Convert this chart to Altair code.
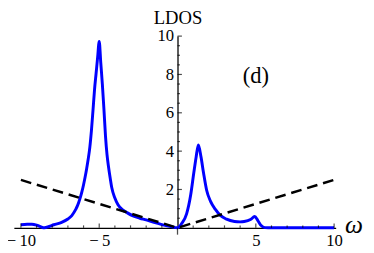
import altair as alt
import pandas as pd

# LDOS curve
omega = [-10, -9.6, -9.3, -9.0, -8.75, -8.5, -8.2, -7.9, -7.4, -7.0, -6.75, -6.5,
         -6.4, -6.3, -6.2, -6.1, -6.0, -5.9, -5.8, -5.7, -5.6, -5.5, -5.4, -5.3,
         -5.2, -5.1, -5.0, -4.9, -4.8, -4.7, -4.6, -4.5, -4.4, -4.3, -4.2, -4.0,
         -3.8, -3.5, -3.2, -2.8, -2.4, -2.0, -1.5, -1.0, -0.5, 0.0, 0.27, 0.58,
         0.84, 1.04, 1.19, 1.33, 1.5, 1.66, 1.86, 2.11, 2.42, 2.72, 3.13, 3.64,
         4.0, 4.26, 4.66, 4.93, 5.13, 5.34, 5.58, 6.0, 7.0, 8.0, 9.0, 10.0]
ldos = [0.16, 0.19, 0.19, 0.14, 0.06, 0.0, 0.07, 0.16, 0.28, 0.46, 0.64, 0.96,
        1.13, 1.35, 1.6, 1.9, 2.25, 2.65, 3.1, 3.6, 4.2, 5.05, 6.1, 7.2,
        8.05, 8.9, 9.72, 8.6, 7.5, 6.2, 4.8, 3.8, 3.15, 2.6, 2.1, 1.55,
        1.2, 0.94, 0.78, 0.61, 0.5, 0.41, 0.28, 0.17, 0.08, 0.0, 0.23, 0.73,
        1.71, 2.87, 3.7, 4.32, 3.7, 2.87, 1.96, 1.38, 0.96, 0.66, 0.45, 0.33,
        0.31, 0.33, 0.43, 0.59, 0.38, 0.12, 0.01, 0.0, 0.0, 0.0, 0.0, 0.0]

# dashed reference line |omega|/4
dash_w = [-10, 0, 10]
dash_v = [2.5, 0, 2.5]

# ticks and labels
x_labels = [-10, -5, 5, 10]
x_major = [-10, -5, 5, 10]
x_minor = [-9, -8, -7, -6, -4, -3, -2, -1, 1, 2, 3, 4, 6, 7, 8, 9]
y_labels = [2, 4, 6, 8, 10]
y_major = [2, 4, 6, 8, 10]
y_minor = [0.5, 1, 1.5, 2.5, 3, 3.5, 4.5, 5, 5.5, 6.5, 7, 7.5, 8.5, 9, 9.5]

W, H = 329, 196
XDOM = [-10.45, 10.1]
x0px = (0 - XDOM[0]) / (XDOM[1] - XDOM[0]) * W
FONT = "Liberation Serif"

curve = pd.DataFrame({"w": omega, "v": ldos})
dash = pd.DataFrame({"w": dash_w, "v": dash_v})
xmaj = pd.DataFrame({"w": x_major})
xmin = pd.DataFrame({"w": x_minor})
ymaj = pd.DataFrame({"v": y_major})
ymin = pd.DataFrame({"v": y_minor})

xscale = alt.Scale(domain=XDOM, nice=False, zero=False)
yscale = alt.Scale(domain=[0, 10], nice=False, zero=False)

xaxis = alt.Axis(values=x_labels, ticks=False, grid=False, domainColor="black",
                 domainWidth=1.3, labelFont=FONT, labelFontSize=17, labelColor="black",
                 labelPadding=5,
                 labelExpr="datum.value < 0 ? '\u2212\u2009' + abs(datum.value) : datum.label",
                 title="ω", titleFont=FONT, titleFontSize=26, titleFontStyle="italic",
                 titleFontWeight="normal", titleColor="black", titleAngle=0,
                 titleX=W + 9, titleY=5, titleAlign="left", titleBaseline="alphabetic")
yaxis = alt.Axis(values=y_labels, ticks=False, grid=False, domainColor="black",
                 domainWidth=1.3, labelFont=FONT, labelFontSize=17, labelColor="black",
                 labelPadding=4, offset=-x0px,
                 title="LDOS", titleFont=FONT, titleFontSize=19, titleFontWeight="normal",
                 titleColor="black", titleAngle=0, titleX=0, titleY=-13,
                 titleAlign="center", titleBaseline="alphabetic")

blue = alt.Chart(curve).mark_line(color="#0000ff", strokeWidth=3, interpolate="monotone").encode(
    x=alt.X("w:Q", scale=xscale, axis=xaxis),
    y=alt.Y("v:Q", scale=yscale, axis=yaxis),
)
dashed = alt.Chart(dash).mark_line(color="black", strokeWidth=2.5, strokeDash=[11, 6]).encode(
    x=alt.X("w:Q", scale=xscale),
    y=alt.Y("v:Q", scale=yscale),
)

def xticks(df, size):
    return alt.Chart(df).mark_tick(orient="vertical", size=size, thickness=1.2,
                                   color="black", yOffset=-size / 2).encode(
        x=alt.X("w:Q", scale=xscale),
        y=alt.YDatum(0, type="quantitative", scale=yscale),
    )

def yticks(df, size):
    return alt.Chart(df).mark_tick(orient="horizontal", size=size, thickness=1.2,
                                   color="black", xOffset=size / 2).encode(
        x=alt.XDatum(0, type="quantitative", scale=xscale),
        y=alt.Y("v:Q", scale=yscale),
    )

origin_tick = alt.Chart(pd.DataFrame({"w": [0]})).mark_tick(
    orient="vertical", size=7, thickness=1.3, color="black", yOffset=3.5).encode(
    x=alt.X("w:Q", scale=xscale),
    y=alt.YDatum(0, type="quantitative", scale=yscale),
)

label = alt.Chart(pd.DataFrame({"t": ["(d)"]})).mark_text(
    font=FONT, fontSize=23, align="center", baseline="middle", color="black").encode(
    x=alt.XDatum(5, type="quantitative", scale=xscale),
    y=alt.YDatum(7.9, type="quantitative", scale=yscale),
    text="t:N",
)

chart = alt.layer(
    blue, dashed,
    xticks(xmin, 2.5), xticks(xmaj, 4.5),
    yticks(ymin, 2.5), yticks(ymaj, 4.5),
    origin_tick, label,
).properties(
    width=W, height=H,
    autosize=alt.AutoSizeParams(type="none"),
    padding={"left": 6, "top": 26, "right": 31, "bottom": 23},
).configure_view(stroke=None).configure_axis(
    labelFont=FONT, titleFont=FONT, labelColor="black", titleColor="black",
    labelFontSize=17, titleFontWeight="normal",
)

chart.save("out.html", embed_options={"renderer": "svg", "actions": False})
